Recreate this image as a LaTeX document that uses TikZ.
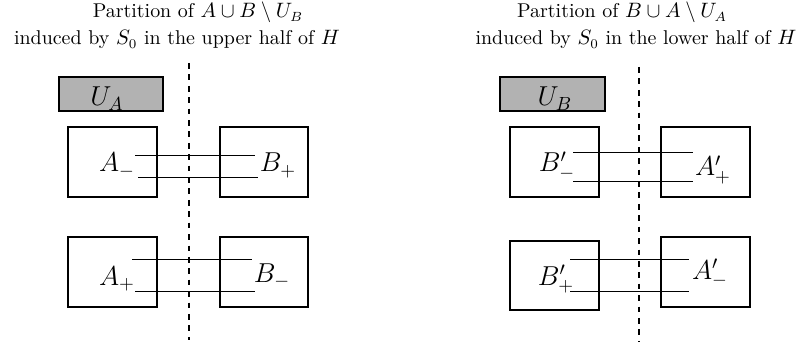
\documentclass[tikz,border=0pt]{standalone}
\usetikzlibrary{positioning}
\tikzset{
  part/.style={draw, line width=1pt, rectangle, inner sep=0pt},
  shadebox/.style={part, fill=gray!60},
  lbl/.style={anchor=base, inner sep=0pt, font=\fontsize{14.4}{17}\selectfont},
  ttl/.style={anchor=base, inner sep=0pt, font=\fontsize{10.5}{12.5}\selectfont},
  cut/.style={dashed, line width=1.1pt},
  link/.style={line width=0.5pt}
}
\begin{document}
\begin{tikzpicture}[x=0.526pt, y=-0.526pt]
\useasboundingbox (0,0) rectangle (803,345);

% ---------- upper half ----------
\node[ttl] (t1a) at (198,18) {Partition of $A\cup B\setminus U_B$};
\node[ttl] (t1b) at (177,45) {induced by $S_0$ in the upper half of $H$};

\coordinate (c1top) at (189,63);
\coordinate (c1bot) at (189,340);
\draw[cut] (c1top) -- (c1bot);

\node[shadebox, minimum width=104*0.526pt, minimum height=34*0.526pt] (UA) at (111,94) {};
\node[lbl] (UAl) at (107,106) {$U_A$};

\node[part, minimum width=89*0.526pt, minimum height=70*0.526pt] (Am) at (112.5,162) {};
\node[part, minimum width=88*0.526pt, minimum height=70*0.526pt] (Bp) at (264,162) {};
\node[part, minimum width=89*0.526pt, minimum height=70*0.526pt] (Ap) at (112.5,272) {};
\node[part, minimum width=88*0.526pt, minimum height=70*0.526pt] (Bm) at (264,272) {};

\node[lbl] (Aml) at (117,172) {$A_-$};
\node[lbl] (Bpl) at (278,172) {$B_+$};
\node[lbl] (Apl) at (117,285) {$A_+$};
\node[lbl] (Bml) at (272,282) {$B_-$};

\coordinate (u1s) at (135,155); \coordinate (u1e) at (255,155);
\coordinate (u2s) at (138,177); \coordinate (u2e) at (258,177);
\coordinate (u3s) at (132,259); \coordinate (u3e) at (252,259);
\coordinate (u4s) at (135,291); \coordinate (u4e) at (255,291);
\draw[link] (u1s) -- (u1e);
\draw[link] (u2s) -- (u2e);
\draw[link] (u3s) -- (u3e);
\draw[link] (u4s) -- (u4e);

% ---------- lower half ----------
\node[ttl] (t2a) at (622,18) {Partition of $B\cup A\setminus U_A$};
\node[ttl] (t2b) at (636,45) {induced by $S_0$ in the lower half of $H$};

\coordinate (c2top) at (639,67);
\coordinate (c2bot) at (639,342);
\draw[cut] (c2top) -- (c2bot);

\node[shadebox, minimum width=105*0.526pt, minimum height=34*0.526pt] (UB) at (552.5,94) {};
\node[lbl] (UBl) at (555,106) {$U_B$};

\node[part, minimum width=89*0.526pt, minimum height=70*0.526pt] (Bpm) at (554.5,162) {};
\node[part, minimum width=89*0.526pt, minimum height=70*0.526pt] (Apm) at (705.5,162) {};
\node[part, minimum width=89*0.526pt, minimum height=69*0.526pt] (Bpp) at (554.5,275.5) {};
\node[part, minimum width=89*0.526pt, minimum height=70*0.526pt] (Apmm) at (705.5,272) {};

\node[lbl] (Bpml) at (557,172) {$B'_-$};
\node[lbl] (Apml) at (713,176) {$A'_+$};
\node[lbl] (Bppl) at (556,285) {$B'_+$};
\node[lbl] (Apmml) at (710,279) {$A'_-$};

\coordinate (l1s) at (573,152); \coordinate (l1e) at (693,152);
\coordinate (l2s) at (573,181); \coordinate (l2e) at (693,181);
\coordinate (l3s) at (570,259); \coordinate (l3e) at (689,259);
\coordinate (l4s) at (570,291); \coordinate (l4e) at (689,291);
\draw[link] (l1s) -- (l1e);
\draw[link] (l2s) -- (l2e);
\draw[link] (l3s) -- (l3e);
\draw[link] (l4s) -- (l4e);
\end{tikzpicture}
\end{document}
